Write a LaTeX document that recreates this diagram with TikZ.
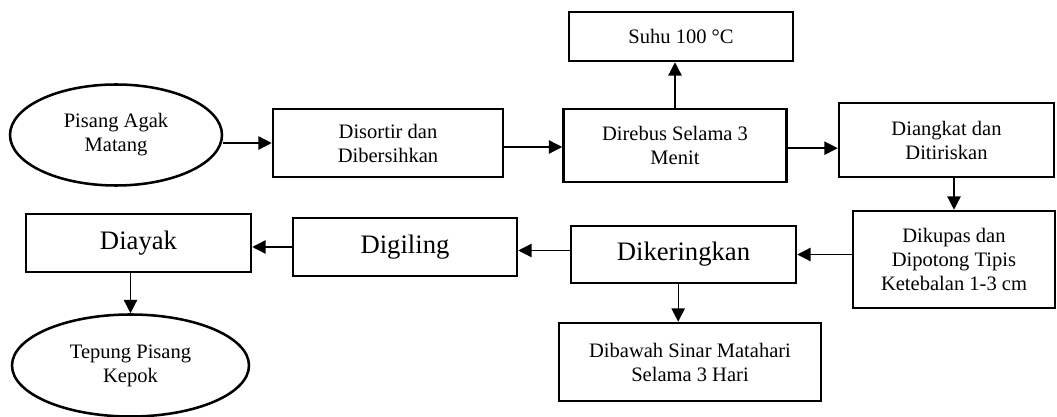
\documentclass[tikz,border=0pt]{standalone}
\usepackage{fontspec}
\setmainfont{Liberation Serif}
\usetikzlibrary{arrows.meta,shapes.geometric}

\begin{document}
\begin{tikzpicture}[x=0.75pt,y=-0.75pt,
  box/.style={draw,line width=1.9pt,rectangle,inner sep=0pt,align=center,font=\fontsize{15.4}{18}\selectfont},
  bigbox/.style={box,font=\fontsize{20}{24}\selectfont},
  oval/.style={box,ellipse},
  arr/.style={line width=1pt,-{Triangle[length=10pt,width=10pt]}}]
\useasboundingbox (0,0) rectangle (1057,417);
  \node[oval,minimum width=159pt,minimum height=75.75pt] (pisang) at (116,135) {Pisang Agak\\Matang};
  \node[box,minimum width=172.5pt,minimum height=51pt] (sortir) at (388,143) {Disortir dan\\Dibersihkan};
  \node[box,minimum width=167.25pt,minimum height=54.75pt] (rebus) at (675,145.5) {Direbus Selama 3\\Menit};
  \node[box,minimum width=168pt,minimum height=36.75pt] (suhu) at (681,36.5) {Suhu 100 °C};
  \node[box,minimum width=161.25pt,minimum height=55.5pt] (angkat) at (946.5,140) {Diangkat dan\\Ditiriskan};
  \node[box,minimum width=151.5pt,minimum height=72.75pt] (kupas) at (954,259.5) {Dikupas dan\\Dipotong Tipis\\Ketebalan 1-3 cm};
  \node[bigbox,minimum width=168.75pt,minimum height=42.75pt] (kering) at (683.5,254.5) {Dikeringkan};
  \node[box,minimum width=196.5pt,minimum height=58.5pt] (sinar) at (690,362) {Dibawah Sinar Matahari\\Selama 3 Hari};
  \node[bigbox,minimum width=168pt,minimum height=43.5pt] (giling) at (405,247) {Digiling};
  \node[bigbox,minimum width=168.75pt,minimum height=43.5pt] (ayak) at (138.5,243) {Diayak};
  \node[oval,minimum width=177.75pt,minimum height=76.5pt] (tepung) at (130.5,365.5) {Tepung Pisang\\Kepok};

  \draw[arr] (sortir.west -| pisang.east) -- (sortir.west);
  \draw[arr] ([yshift=-3pt]sortir.east) -- ([yshift=-3pt]sortir.east -| rebus.west);
  \draw[arr] (rebus.north) -- (rebus.north |- suhu.south);
  \draw[arr] ([yshift=-2pt]rebus.east) -- ([yshift=-2pt]rebus.east -| angkat.west);
  \draw[arr] (kupas.north |- angkat.south) -- (kupas.north);
  \draw[arr] (kupas.west |- kering.east) -- (kering.east);
  \draw[arr] ([yshift=3pt]kering.west) -- ([yshift=3pt]kering.west -| giling.east);
  \draw[arr] ([xshift=-4pt]kering.south) -- ([xshift=-4pt]kering.south |- sinar.north);
  \draw[arr] (giling.west) -- (giling.west -| ayak.east);
  \draw[arr] (tepung.north |- ayak.south) -- (tepung.north);
\end{tikzpicture}
\end{document}
